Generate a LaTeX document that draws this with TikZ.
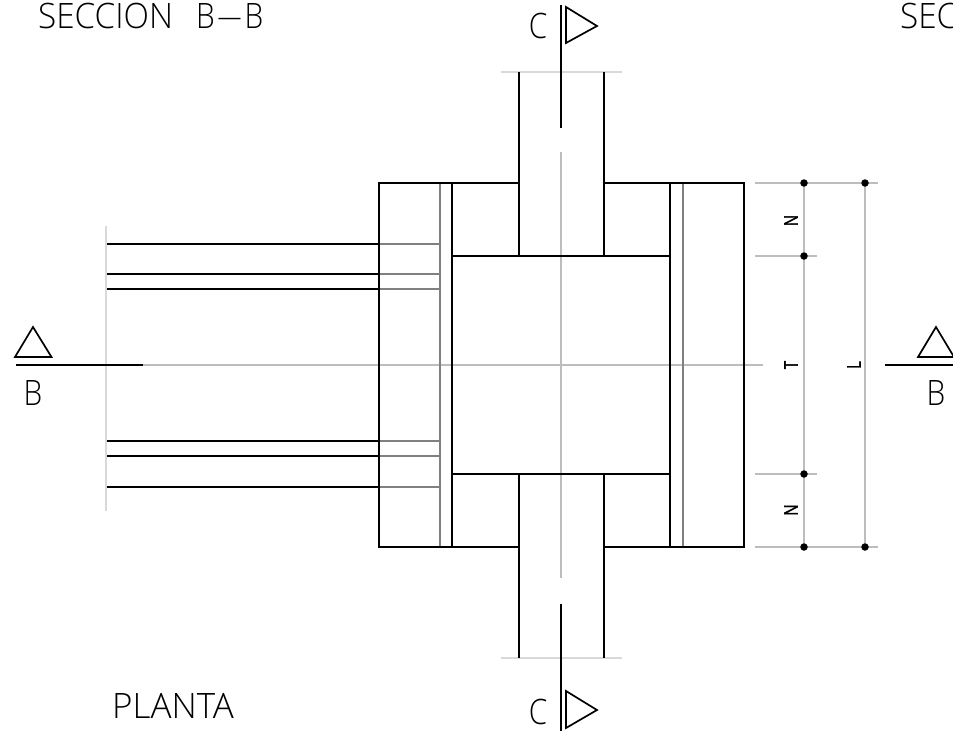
\documentclass[tikz,border=0pt]{standalone}
\usepackage{graphicx}
\usepackage{fontspec}
\setmainfont{Open Sans Light}
\newfontfamily\cadwide[FakeStretch=0.95]{Open Sans Light}
\newfontfamily\cadnarrow[FakeStretch=0.85]{Open Sans Light}
\newfontfamily\cadsmall[FakeStretch=0.78,FakeBold=1.5]{Open Sans}
\definecolor{midgray}{HTML}{808080}
\definecolor{centergray}{HTML}{BDBDBD}
\definecolor{palegray}{HTML}{D9D9D9}
\tikzset{
  solidline/.style={draw=black,line width=2pt},
  hiddenline/.style={draw=midgray,line width=2pt},
  centerline/.style={draw=centergray,line width=2pt},
  paleline/.style={draw=palegray,line width=2pt},
  marker/.style={draw=black,line width=1.7pt,line join=miter},
  dimdot/.style={circle,fill=black,inner sep=0pt,minimum size=7.5pt},
  bigtext/.style={inner sep=0pt,font=\cadnarrow\fontsize{35}{35}\selectfont},
  smalltext/.style={inner sep=0pt,rotate=90,font=\cadsmall\fontsize{19}{19}\selectfont}
}
\begin{document}
\begin{tikzpicture}[x=1pt,y=-1pt]
\useasboundingbox (0,0) rectangle (953,731);
\begin{scope}
\clip (0,0) rectangle (953,731);
% center lines and light limits
\draw[centerline] (143,365) -- (763,365);
\draw[centerline] (561,152) -- (561,578);
\draw[paleline] (106,226) -- (106,511);
\draw[paleline] (501,72) -- (622,72);
\draw[paleline] (501,658) -- (622,658);
% dimension lines
\draw[centerline] (755,183) -- (878,183);
\draw[centerline] (755,256) -- (817,256);
\draw[centerline] (755,474) -- (817,474);
\draw[centerline] (755,547) -- (878,547);
\draw[centerline] (804,183) -- (804,547);
\draw[centerline] (865,183) -- (865,547);
% gray interior
\draw[hiddenline] (440,183) -- (440,547);
\draw[hiddenline] (683,183) -- (683,547);
\foreach \y in {244,274,289,441,456,487}{
  \draw[hiddenline] (379,\y) -- (440,\y);
  \draw[solidline] (107,\y) -- (379,\y);
}
% main outline
\draw[solidline] (519,72) -- (519,256);
\draw[solidline] (604,72) -- (604,256);
\draw[solidline] (519,474) -- (519,658);
\draw[solidline] (604,474) -- (604,658);
\draw[solidline] (519,183) -- (379,183) -- (379,547) -- (519,547);
\draw[solidline] (604,183) -- (744,183) -- (744,547) -- (604,547);
\draw[solidline] (452,183) -- (452,547);
\draw[solidline] (670,183) -- (670,547);
\draw[solidline] (452,256) -- (670,256);
\draw[solidline] (452,474) -- (670,474);
% section lines
\draw[solidline] (16,365) -- (143,365);
\draw[solidline] (885,365) -- (953,365);
\draw[solidline] (561,5) -- (561,128);
\draw[solidline] (561,604) -- (561,731);
% section markers
\draw[marker] (15,357) -- (51.5,357) -- (33,327) -- cycle;
\draw[marker] (918,357) -- (954,357) -- (936,327) -- cycle;
\draw[marker] (566,7) -- (566,43) -- (597,26) -- cycle;
\draw[marker] (566,691) -- (566,728) -- (597,710) -- cycle;
% dots
\foreach \p/\q in {804/183,865/183,804/256,804/474,804/547,865/547}
  \node[dimdot] at (\p,\q) {};
% text
\node[bigtext,anchor=base west,font=\cadwide\fontsize{35}{35}\selectfont] (secbb) at (38,28) {SECCION\hspace{23pt}{\cadnarrow B}\hspace{3pt}\scalebox{0.72}[1]{—}\hspace{3pt}{\cadnarrow B}};
\node[bigtext,anchor=base west,font=\cadwide\fontsize{35}{35}\selectfont] (secright) at (900,28) {SEC};
\node[bigtext,anchor=base] (bleft) at (33,405) {B};
\node[bigtext,anchor=base] (bright) at (936,405) {B};
\node[bigtext,anchor=base] (ctop) at (538,38) {C};
\node[bigtext,anchor=base] (cbot) at (538,724) {C};
\node[bigtext,anchor=base west,font=\normalfont\fontsize{35}{35}\selectfont] (planta) at (112,718) {PLANTA};
\node[smalltext] (dimn1) at (791,220.5) {N};
\node[smalltext] (dimn2) at (791,510) {N};
\node[smalltext] (dimt) at (791,365) {T};
\node[smalltext] (diml) at (854,365) {L};
\end{scope}
\end{tikzpicture}
\end{document}
